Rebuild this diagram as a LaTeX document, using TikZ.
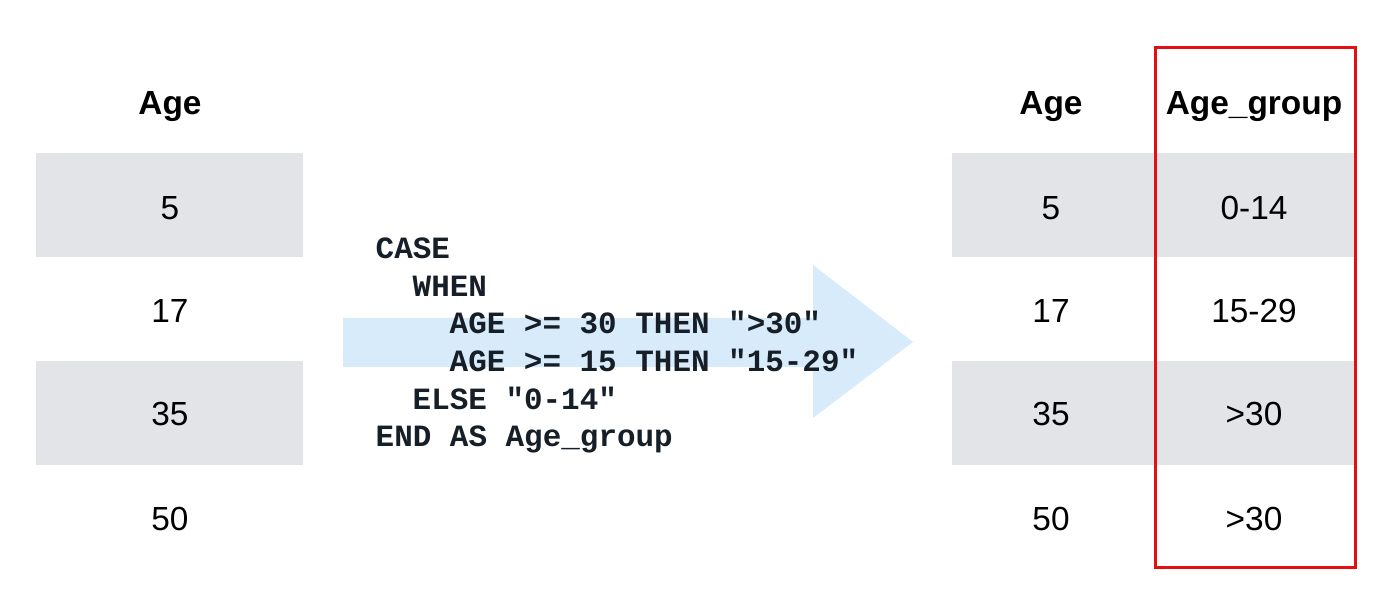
\documentclass[tikz,border=0pt]{standalone}
\usepackage{fontspec}
\setmainfont{Liberation Sans}
\setmonofont{Liberation Mono}
\usetikzlibrary{positioning}

\definecolor{righe}{RGB}{227,228,232}
\definecolor{freccia}{RGB}{215,235,250}
\definecolor{bordo}{RGB}{226,16,16}
\definecolor{codice}{RGB}{22,30,40}

\tikzset{
    intestazione/.style={font=\fontsize{9.5}{11}\selectfont\bfseries},
    valore/.style={font=\fontsize{9.5}{11}\selectfont},
    riga/.style={anchor=base west, font=\fontsize{8.8}{10}\selectfont\ttfamily\bfseries, text=codice, inner sep=0pt}
}

\begin{document}
\begin{tikzpicture}[x=0.01cm, y=-0.01cm]

    \useasboundingbox (0,0) rectangle (1387,616);

    % Fasce grigie delle righe (tabella sinistra e destra)
    \newcommand{\fascia}[3]{
        \fill[righe] (#1,#3) rectangle (#2,#3+104);
    }
    \fascia{36}{303}{153}
    \fascia{36}{303}{361}
    \fascia{952}{1355}{153}
    \fascia{952}{1355}{361}

    % -- Freccia centrale --
    \fill[freccia] (343,318) -- (813,318) -- (813,265) -- (913,342)
                   -- (813,418) -- (813,367) -- (343,367) -- cycle;

    % -- Tabella sinistra --
    \node[intestazione] (etaA) at (170,107) {Age};
    \node[valore] (a1) at (170,208) {5};
    \node[valore] (a2) at (170,311) {17};
    \node[valore] (a3) at (170,414) {35};
    \node[valore] (a4) at (170,519) {50};

    % -- Codice SQL --
    \node[riga] (c1) at (375,259) {CASE};
    \node[riga] (c2) at (412,297) {WHEN};
    \node[riga] (c3) at (449,334) {AGE >= 30 THEN "{>}30"};
    \node[riga] (c4) at (449,372) {AGE >= 15 THEN "15-29"};
    \node[riga] (c5) at (412,410) {ELSE "0-14"};
    \node[riga] (c6) at (375,447) {END AS Age\_group};

    % -- Tabella destra --
    \node[intestazione] (etaB) at (1051,107) {Age};
    \node[intestazione] (gruppo) at (1254,107) {Age\_group};
    \node[valore] (b1) at (1051,208) {5};
    \node[valore] (b2) at (1051,311) {17};
    \node[valore] (b3) at (1051,414) {35};
    \node[valore] (b4) at (1051,519) {50};
    \node[valore] (g1) at (1254,208) {0-14};
    \node[valore] (g2) at (1254,311) {15-29};
    \node[valore] (g3) at (1254,414) {>30};
    \node[valore] (g4) at (1254,519) {>30};

    % Riquadro rosso attorno alla nuova colonna
    \draw[bordo, line width=0.03cm] (1155,48) rectangle (1355,568);

\end{tikzpicture}
\end{document}
